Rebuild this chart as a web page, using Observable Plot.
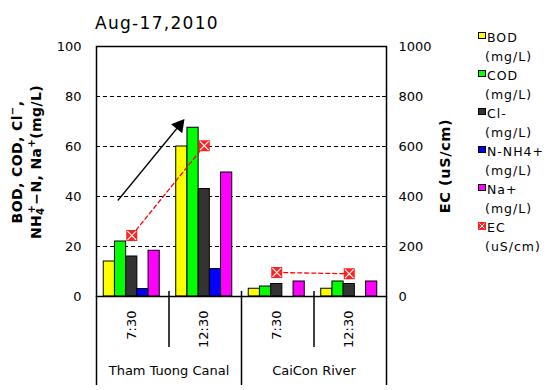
<!DOCTYPE html>
<html><head><meta charset="utf-8">
<script src="https://cdn.jsdelivr.net/npm/d3@7"></script>
<script src="https://cdn.jsdelivr.net/npm/@observablehq/plot@0.6"></script>
<style>
body{margin:0;background:#fff;}
#wrap{position:relative;width:552px;height:390px;font-family:"DejaVu Sans",sans-serif;color:#000;overflow:hidden;}
#wrap svg{position:absolute;left:0;top:0;}
.title{position:absolute;left:95px;top:15px;font-size:17px;letter-spacing:1.3px;line-height:17px;white-space:nowrap;}
.ylab{position:absolute;font-weight:bold;font-size:14px;letter-spacing:0.4px;line-height:19px;text-align:center;white-space:nowrap;transform:translate(-50%,-50%) rotate(-90deg);}
.ylab sup,.ylab sub{font-size:10px;line-height:0;position:relative;vertical-align:baseline;}
.ylab sup{top:-6px;}
.ylab sub{top:3px;}
.yr{font-size:14.5px;letter-spacing:0.6px;}
.leg{position:absolute;font-size:12.5px;letter-spacing:1px;white-space:nowrap;line-height:19px;}
.sw{position:absolute;width:6px;height:5px;border:1px solid #000;}
</style></head><body><div id="wrap"></div>
<script>
// ---- data ----
const times = ["7:30", "12:30", "7:30", "12:30"];
const locations = ["Tham Tuong Canal", "CaiCon River"];
const locationOfTime = [0, 0, 1, 1];
const seriesNames = ["BOD", "COD", "Cl-", "N-NH4+", "Na+"];
const seriesUnit = "(mg/L)";
const BOD = [14, 60, 3.1, 3.1];
const COD = [22, 67.5, 4, 6];
const Cl = [16, 43, 5, 5];
const NH4N = [3, 11, 0, 0];
const Na = [18.3, 49.6, 6, 6];
const EC = [244, 603, 96, 91];
const ecName = "EC";
const ecUnit = "(uS/cm)";
const colors = ["#ffff00", "#00ff00", "#333333", "#0000ff", "#ff00ff"];
const leftTicks = [0, 20, 40, 60, 80, 100];
const ecTicks = [0, 200, 400, 600, 800, 1000];
const gridTicks = [20, 40, 60, 80];
const titleText = "Aug-17,2010";

// ---- layout constants (in category units) ----
const barW = 0.1545, barOff = 0.1;
const center = barOff + 2.5 * barW;
const trendArrow = {x1: 0.294, y1: 38.4, x2: 1.142, y2: 68.4};

const seriesValues = [BOD, COD, Cl, NH4N, Na];
const bars = [];
seriesValues.forEach((vals, s) => vals.forEach((v, c) => { if (v > 0) bars.push({c, s, v}); }));
const ecData = EC.map((v, c) => ({c, v: v / 10, loc: locationOfTime[c]}));
const timeData = times.map((t, c) => ({c, t}));
const locData = locations.map((l, i) => ({i, l}));
const sepLong = [0, 2, 4], sepShort = [1, 3];

const plot = Plot.plot({
  width: 552, height: 390,
  marginLeft: 96, marginRight: 166, marginTop: 46, marginBottom: 94,
  x: {domain: [0, 4], axis: null},
  y: {domain: [0, 100], axis: null},
  color: {type: "identity"},
  style: {fontFamily: "DejaVu Sans, sans-serif", fontSize: "13px", background: "transparent", overflow: "visible"},
  marks: [
    Plot.ruleY(gridTicks, {stroke: "#000", strokeDasharray: "4,3", strokeWidth: 1}),
    Plot.ruleY(leftTicks, {x1: 0, x2: 0.055, stroke: "#000"}),
    Plot.ruleY(leftTicks, {x1: 3.945, x2: 4, stroke: "#000"}),
    Plot.rectY(bars, {
      x1: d => d.c + barOff + d.s * barW,
      x2: d => d.c + barOff + (d.s + 1) * barW,
      y1: 0, y2: "v",
      fill: d => colors[d.s], stroke: "#000", strokeWidth: 1
    }),
    Plot.frame({stroke: "#000", strokeWidth: 1.5}),
    Plot.ruleX(sepLong, {y1: d => (d === 2 ? 2 : 0), y2: -35.6, stroke: "#000", strokeWidth: 1.5}),
    Plot.ruleX(sepShort, {y1: 2, y2: -20.4, stroke: "#000", strokeWidth: 1.5}),
    Plot.axisY(leftTicks, {anchor: "left", tickSize: 0, tickPadding: 15, label: null, fontSize: 13}),
    Plot.axisY(ecTicks.map(v => v / 10), {anchor: "right", tickSize: 0, tickPadding: 12, label: null, tickFormat: d => String(Math.round(d * 10)), fontSize: 13}),
    Plot.text(timeData, {x: d => d.c + center, y: -5.6, text: "t", rotate: -90, textAnchor: "end", lineAnchor: "middle", fontSize: 13}),
    Plot.text(locData, {x: d => 1 + 2 * d.i, y: -29.6, text: "l", fontSize: 13}),
    Plot.link([trendArrow], {x1: "x1", y1: "y1", x2: "x2", y2: "y2", stroke: "#000", strokeWidth: 1.3}),
    Plot.dot([trendArrow], {x: "x2", y: "y2", symbol: "triangle", r: 5.3, rotate: 39, fill: "#000", stroke: "none"}),
    Plot.line(ecData, {x: d => d.c + center, y: "v", z: "loc", stroke: "#ff0000", strokeDasharray: "4,3", strokeWidth: 1.3}),
    Plot.dot(ecData, {x: d => d.c + center, y: "v", symbol: "square", r: 6.2, fill: "#ff2020", stroke: "none"}),
    Plot.dot(ecData, {x: d => d.c + center, y: "v", symbol: "times", r: 4, stroke: "#fff", strokeWidth: 1.2})
  ]
});

const wrap = document.getElementById("wrap");
wrap.appendChild(plot);

const title = document.createElement("div");
title.className = "title";
title.textContent = titleText;
wrap.appendChild(title);

const yl = document.createElement("div");
yl.className = "ylab";
yl.style.left = "27px"; yl.style.top = "162px";
yl.innerHTML = "BOD, COD, Cl<sup>−</sup>,<br>NH<sub>4</sub><sup style='margin-left:-6px'>+</sup>−N, Na<sup>+</sup>(mg/L)";
wrap.appendChild(yl);

const yr = document.createElement("div");
yr.className = "ylab yr";
yr.style.left = "445px"; yr.style.top = "166px";
yr.textContent = "EC (uS/cm)";
wrap.appendChild(yr);

// legend
const rowTop = k => 27.5 + k * 19.05;
seriesNames.forEach((name, s) => {
  const sw = document.createElement("div");
  sw.className = "sw";
  sw.style.left = "478px"; sw.style.top = (rowTop(2 * s) + 4) + "px";
  sw.style.background = colors[s];
  wrap.appendChild(sw);
  const t1 = document.createElement("div");
  t1.className = "leg"; t1.style.left = "487px"; t1.style.top = rowTop(2 * s) + "px";
  t1.textContent = name; wrap.appendChild(t1);
  const t2 = document.createElement("div");
  t2.className = "leg"; t2.style.left = "485px"; t2.style.top = rowTop(2 * s + 1) + "px";
  t2.textContent = seriesUnit; wrap.appendChild(t2);
});
{
  const k = 10;
  const m = document.createElementNS("http://www.w3.org/2000/svg", "svg");
  m.setAttribute("width", 8); m.setAttribute("height", 8);
  m.style.position = "absolute"; m.style.left = "478px"; m.style.top = (rowTop(k) + 4) + "px";
  m.innerHTML = '<rect width="8" height="8" fill="#ff2020"/><path d="M1.5,1.5L6.5,6.5M6.5,1.5L1.5,6.5" stroke="#fff" stroke-width="1"/>';
  wrap.appendChild(m);
  const t1 = document.createElement("div");
  t1.className = "leg"; t1.style.left = "487px"; t1.style.top = rowTop(k) + "px";
  t1.textContent = ecName; wrap.appendChild(t1);
  const t2 = document.createElement("div");
  t2.className = "leg"; t2.style.left = "485px"; t2.style.top = rowTop(k + 1) + "px";
  t2.textContent = ecUnit; wrap.appendChild(t2);
}
</script></body></html>
